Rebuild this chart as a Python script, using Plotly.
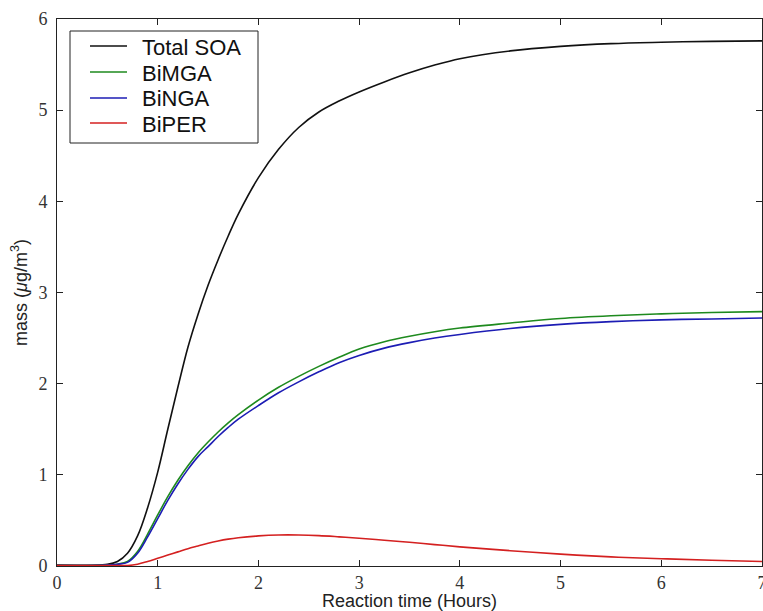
import plotly.graph_objects as go

# Reaction time grid (hours)
hours = [0, 0.5, 0.6, 0.7, 0.8, 0.9, 1.0, 1.1, 1.2, 1.3, 1.4, 1.5, 1.6, 1.7, 1.8,
         2.0, 2.2, 2.4, 2.6, 2.8, 3.0, 3.25, 3.5, 3.75, 4.0, 4.5, 5.0, 5.5, 6.0, 6.5, 7.0]

# Mass concentrations (ug/m3)
total_soa = [0.01, 0.02, 0.05, 0.14, 0.33, 0.64, 1.03, 1.50, 1.96, 2.40, 2.76, 3.08, 3.36, 3.62, 3.86,
             4.26, 4.57, 4.81, 4.98, 5.10, 5.20, 5.31, 5.41, 5.495, 5.565, 5.65, 5.70, 5.73, 5.745, 5.755, 5.76]
bimga = [0.005, 0.01, 0.02, 0.05, 0.16, 0.35, 0.56, 0.76, 0.94, 1.10, 1.24, 1.36, 1.47, 1.57, 1.66,
         1.82, 1.96, 2.08, 2.19, 2.29, 2.38, 2.46, 2.52, 2.57, 2.61, 2.665, 2.715, 2.745, 2.765, 2.78, 2.79]
binga = [0.005, 0.01, 0.02, 0.04, 0.14, 0.32, 0.52, 0.72, 0.90, 1.06, 1.20, 1.31, 1.42, 1.52, 1.61,
         1.76, 1.90, 2.02, 2.13, 2.23, 2.31, 2.39, 2.45, 2.50, 2.54, 2.605, 2.65, 2.68, 2.70, 2.71, 2.72]
biper = [0.005, 0.005, 0.005, 0.005, 0.02, 0.05, 0.085, 0.12, 0.155, 0.19, 0.22, 0.25, 0.275, 0.295, 0.31,
         0.33, 0.34, 0.34, 0.333, 0.32, 0.305, 0.283, 0.26, 0.235, 0.21, 0.168, 0.13, 0.10, 0.08, 0.063, 0.05]

series = [
    ("Total SOA", total_soa, "#111111"),
    ("BiMGA", bimga, "#1e8a1e"),
    ("BiNGA", binga, "#1c1cb4"),
    ("BiPER", biper, "#d42020"),
]

x_ticks = [0, 1, 2, 3, 4, 5, 6, 7]
y_ticks = [0, 1, 2, 3, 4, 5, 6]

# plot-area geometry in pixels, used to place the hand-built legend box
FIG_W, FIG_H = 763, 611
M_L, M_R, M_T, M_B = 57, 1, 19, 45
PLOT_W = FIG_W - M_L - M_R
PLOT_H = FIG_H - M_T - M_B


def px_x(px):
    return (px - M_L) / PLOT_W


def px_y(py):
    return (FIG_H - M_B - py) / PLOT_H


fig = go.Figure()
for name, vals, color in series:
    fig.add_trace(go.Scatter(
        x=hours, y=vals, name=name, mode="lines",
        line=dict(color=color, width=1.6, shape="spline", smoothing=1.0),
        showlegend=False,
    ))

# legend: framed box with a short line sample and label per series
shapes = [dict(type="rect", xref="paper", yref="paper",
               x0=px_x(70), x1=px_x(258), y0=px_y(143), y1=px_y(31),
               line=dict(color="#222222", width=1), fillcolor="white", layer="above")]
annotations = []
row_y = [46, 72, 98, 123]
for (name, _, color), ry in zip(series, row_y):
    shapes.append(dict(type="line", xref="paper", yref="paper",
                       x0=px_x(90), x1=px_x(127), y0=px_y(ry), y1=px_y(ry),
                       line=dict(color=color, width=1.6), layer="above"))
    annotations.append(dict(xref="paper", yref="paper", x=px_x(140), y=px_y(ry + 1),
                            xanchor="left", yanchor="middle", showarrow=False, text=name,
                            font=dict(family="Liberation Sans", size=22, color="#111111")))

axis_common = dict(
    showline=True, linecolor="#222222", linewidth=1,
    mirror="allticks", ticks="inside", ticklen=6, tickcolor="#222222",
    showgrid=False, zeroline=False, automargin=False,
    tickfont=dict(family="Liberation Serif", size=18, color="#333333"),
)

fig.update_layout(
    width=FIG_W, height=FIG_H,
    margin=dict(l=M_L, r=M_R, t=M_T, b=M_B),
    paper_bgcolor="white", plot_bgcolor="white",
    showlegend=False,
    shapes=shapes,
    annotations=annotations,
    xaxis=dict(
        range=[0, 7], tickvals=x_ticks, ticktext=[str(v) for v in x_ticks],
        ticklabeloverflow="allow",
        title=dict(text="Reaction time (Hours)", standoff=7,
                   font=dict(family="Liberation Sans", size=18, color="#222222")),
        **axis_common,
    ),
    yaxis=dict(
        range=[0, 6], tickvals=y_ticks, ticktext=[str(v) for v in y_ticks],
        ticklabelstandoff=5,
        title=dict(text="mass (<i>\u03bc</i>g/m<sup>3</sup>)", standoff=6,
                   font=dict(family="Liberation Sans", size=18, color="#222222")),
        **axis_common,
    ),
)

fig.write_html("out.html")
